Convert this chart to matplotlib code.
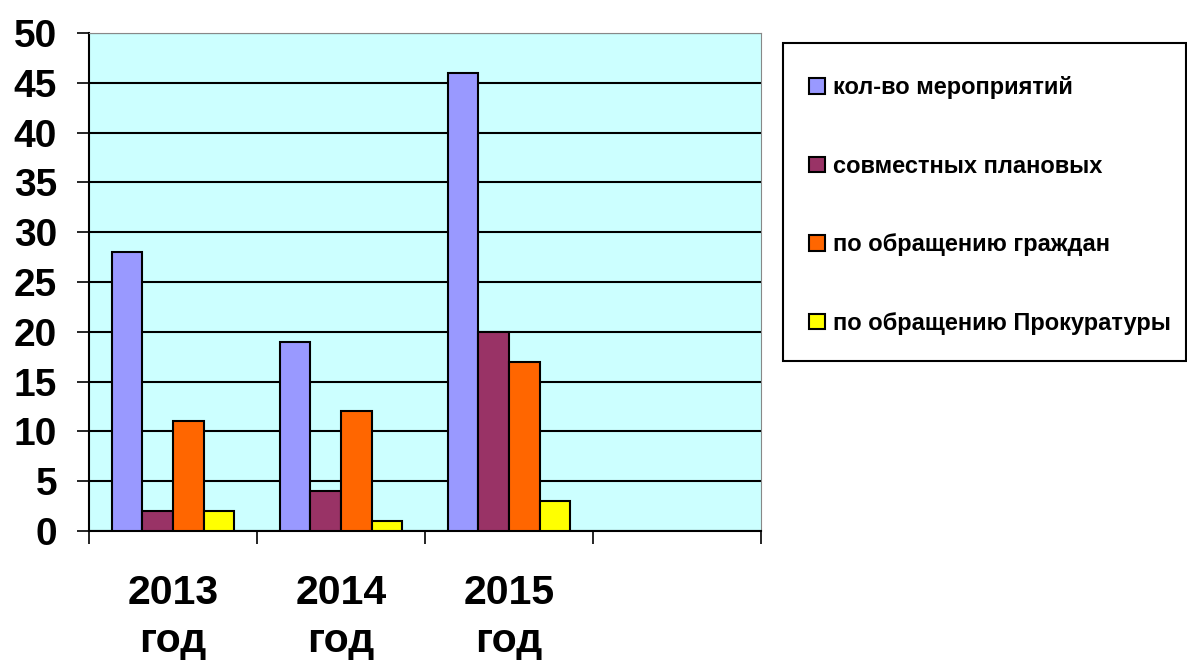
import matplotlib.pyplot as plt
import numpy as np
from matplotlib.patches import Rectangle

plt.rcParams['font.family'] = ['Liberation Sans', 'DejaVu Sans']
plt.rcParams['font.weight'] = 'bold'

categories = ['2013\nгод', '2014\nгод', '2015\nгод', '']
series_names = ['кол-во мероприятий', 'совместных плановых',
                'по обращению граждан', 'по обращению Прокуратуры']
events = [28, 19, 46, np.nan]
joint_planned = [2, 4, 20, np.nan]
citizens = [11, 12, 17, np.nan]
prosecutor = [2, 1, 3, np.nan]
colors = ['#9999FF', '#993366', '#FF6600', '#FFFF00']

fig = plt.figure(figsize=(11.87, 6.61), dpi=100)
ax = fig.add_axes([89/1187, 1-531/661, 672/1187, 498/661])
ax.set_facecolor('#CCFFFF')

x = np.arange(len(categories))
w = 1/5.5  # excel gap width 150%
allvals = [events, joint_planned, citizens, prosecutor]
for i, (vals, name, c) in enumerate(zip(allvals, series_names, colors)):
    ax.bar(x - 2*w + (i+0.5)*w, vals, width=w, color=c, edgecolor='black',
           linewidth=1.5, label=name, zorder=3)

ax.set_xlim(-0.5, 3.5)
ax.set_ylim(0, 50)
ax.set_yticks(range(0, 51, 5))
ax.yaxis.grid(True, color='black', linewidth=1.5, zorder=1)
ax.set_axisbelow(True)
ax.tick_params(axis='y', labelsize=28, length=9, width=1.2, pad=14)
ax.set_xticks(np.arange(len(categories) + 1) - 0.5)
ax.set_xticks(x, minor=True)
ax.set_xticklabels([''] * (len(categories) + 1))
ax.set_xticklabels(categories, minor=True, fontsize=29.5, linespacing=1.33)
ax.tick_params(axis='x', which='major', length=9, width=1.2)
ax.tick_params(axis='x', which='minor', length=0, pad=31)

ax.spines['left'].set_linewidth(1.5)
ax.spines['bottom'].set_linewidth(1.5)
ax.spines['top'].set_color('#888888')
ax.spines['right'].set_color('#888888')

fig.patches.append(Rectangle((783/1187, 1-361/661), 403/1187, 318/661,
                             transform=fig.transFigure, fill=False,
                             edgecolor='black', linewidth=1.5))
handles, labels = ax.get_legend_handles_labels()
fig.legend(handles, labels, loc='upper left',
           bbox_to_anchor=(788/1187, 1-55/661), frameon=False,
           prop={'size': 17, 'weight': 'bold'}, labelspacing=2.35,
           handlelength=0.65, handleheight=0.65, handletextpad=0.35)

fig.savefig('out.png', dpi=100)
